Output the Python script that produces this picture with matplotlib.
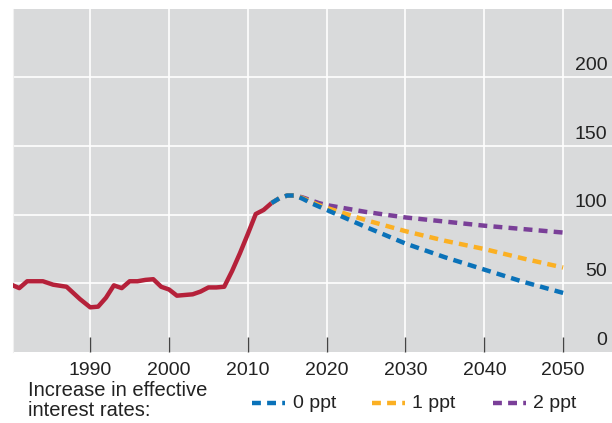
import matplotlib.pyplot as plt

plt.rcParams['font.family'] = ['Liberation Sans', 'DejaVu Sans']

# historical debt ratio
hist_years = [1980, 1981, 1982, 1984, 1985.3, 1987, 1988.7, 1990, 1991, 1992, 1993, 1994,
              1995, 1996, 1997, 1998, 1999, 2000, 2001, 2002, 2003, 2004, 2005, 2006,
              2007, 2008, 2009, 2010, 2011, 2012, 2013]
hist_vals = [49, 46.5, 51.5, 51.5, 49, 47.5, 38.5, 32.5, 33, 39.5, 48.5, 46.5,
             51.5, 51.5, 52.5, 53, 47.5, 45.5, 41, 41.5, 42, 44, 47, 47,
             47.5, 59, 72, 86, 100.5, 103.5, 108.5]

# projections
proj_years = [2013, 2014, 2015, 2016, 2017, 2018, 2019, 2020, 2025, 2030, 2035, 2040, 2045, 2050]
proj_0ppt = [108.5, 112, 114, 114, 111.5, 108.5, 106, 103.5, 91, 79, 69, 60, 51, 43]
proj_1ppt = [108.5, 112, 114, 114, 112, 109.5, 107, 105, 96, 88, 81, 75, 68, 61.5]
proj_2ppt = [108.5, 112, 114, 114, 112.5, 110.5, 108.5, 107, 102, 98, 95, 92, 89.5, 87]

FS = 14

fig = plt.figure(figsize=(6.12, 4.23), dpi=100)
ax = fig.add_axes([0.0212, 0.168, 0.9788, 0.811])
ax.set_facecolor('#d9dadb')

ax.plot(hist_years, hist_vals, color='#b5213a', lw=3.2, solid_capstyle='butt', zorder=3)
ax.plot(proj_years, proj_2ppt, color='#7a3f98', lw=3.2, dashes=(2.0, 1.4), zorder=3)
ax.plot(proj_years, proj_1ppt, color='#fbb023', lw=3.2, dashes=(2.0, 1.4), zorder=4)
ax.plot(proj_years, proj_0ppt, color='#0a72b9', lw=3.2, dashes=(2.0, 1.4), zorder=5)

ax.set_xlim(1980.2, 2056.2)
ax.set_ylim(0, 250)

ax.set_xticks([1990, 2000, 2010, 2020, 2030, 2040, 2050])
ax.set_yticks([50, 100, 150, 200])
ax.grid(True, color='white', lw=1.2, zorder=1)
ax.set_axisbelow(True)

ax.tick_params(axis='x', direction='in', length=11, width=1, color='#444444',
               labelsize=FS, pad=7, labelcolor='#222222')
ax.tick_params(axis='y', left=False, right=False, labelleft=False)

# right side labels sit just above gridlines
for v in [0, 50, 100, 150, 200]:
    ax.text(2055.6, v + 2.5, str(v), ha='right', va='bottom', fontsize=FS, color='#222222')

for s in ['top', 'right', 'bottom']:
    ax.spines[s].set_visible(False)
ax.spines['left'].set_color('#f0f0f0')

fig.text(0.046, 0.006, 'Increase in effective\ninterest rates:', fontsize=14.5,
         color='#222222', ha='left', va='bottom', linespacing=1.12)

leg_items = [(0.412, '#0a72b9', '0 ppt'), (0.608, '#fbb023', '1 ppt'), (0.805, '#7a3f98', '2 ppt')]
for x0, c, lab in leg_items:
    fig.add_artist(plt.Line2D([x0, x0 + 0.054], [0.047, 0.047], color=c, lw=3.2,
                              dashes=(2.0, 1.4), transform=fig.transFigure))
    fig.text(x0 + 0.066, 0.047, lab, fontsize=FS, color='#222222', va='center')

fig.savefig('out.png', dpi=100)
